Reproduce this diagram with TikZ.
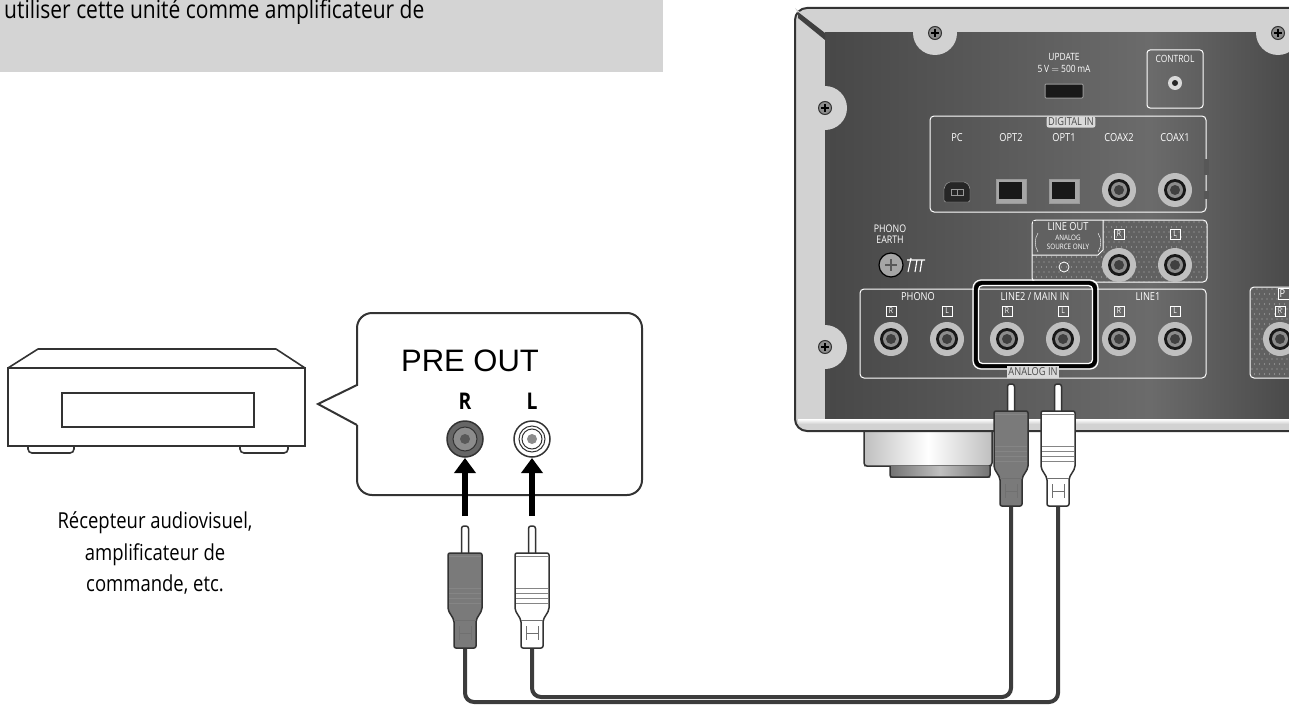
\documentclass[tikz,border=0pt]{standalone}
\usepackage{fontspec}
\setmainfont{Open Sans}[FakeStretch=0.84]
\newfontfamily\arialf{Liberation Sans}
\usetikzlibrary{arrows.meta}
\definecolor{ink}{HTML}{333333}
\definecolor{frame}{HTML}{D2D2D2}
\definecolor{cable}{HTML}{3C3C3C}
\definecolor{plugdark}{HTML}{7A7A7A}
\begin{document}
\begin{tikzpicture}[x=1pt,y=-1pt,
  lbl/.style={text=white,font=\fontsize{10}{11}\selectfont,inner sep=0pt},
  badge/.style={draw=white,line width=0.7pt,text=white,font=\fontsize{8}{8}\selectfont,inner sep=1pt,minimum width=10pt,minimum height=10pt},
  ol/.style={draw=ink,line width=1.6pt},
  cab/.style={draw=cable,line width=4pt,rounded corners=9pt},
  bigarrow/.style={line width=6.5pt,-{Triangle[length=15pt,width=21pt]}}]
\useasboundingbox (0,0) rectangle (1289,709);
\clip (0,0) rectangle (1289,709);
\newcommand\jackx[2]{%
  \fill[white!75!black] (#1,#2) circle (17);
  \fill[black!90] (#1,#2) circle (11);
  \fill[black!45] (#1,#2) circle (8);
  \fill[black!75] (#1,#2) circle (5);}
\newcommand\screwx[2]{%
  \fill[frame] (#1,#2) circle (22);
  \draw[ink,fill=black!45,line width=1pt] (#1,#2) circle (6.5);
  \draw[black,line width=1.3pt] ({#1-4},#2) -- ({#1+4},#2) (#1,{#2-4}) -- (#1,{#2+4});}
\newcommand\plugx[3]{%
  \begin{scope}[shift={(#1,#2)}]
  \draw[ink,line width=1.5pt,fill=white,rounded corners=2.5pt] (-3.5,30) -- (-3.5,0) -- (3.5,0) -- (3.5,30);
  \draw[ink,line width=1.5pt,fill=#3,rounded corners=2pt] (-17,27) -- (17,27) -- (17,84) -- (11,94) -- (11,122) -- (-11,122) -- (-11,94) -- (-17,84) -- cycle;
  \draw[ink!60,line width=0.8pt] (-16,30) -- (16,30) (-16,62) -- (16,62) (-16,67) -- (16,67) (-16,72) -- (16,72) (-16,77) -- (16,77);
  \draw[ink!70,line width=0.8pt] (-6,100) -- (-6,114) (6,100) -- (6,114) (-6,107) -- (6,107) (-11,94) -- (11,94);
  \end{scope}}
% banner
\fill[black!17] (0,0) rectangle (663,72);
\node[anchor=base west,inner sep=0pt,font=\fontsize{25}{28}\selectfont] (banner) at (4,19) {utiliser cette unité comme amplificateur de};
% left device
\draw[ol,fill=white,line join=round] (8,368) -- (38,349) -- (276,349) -- (305,368) -- cycle;
\draw[ol,fill=white,rounded corners=4pt] (28,443) rectangle (74,453);
\draw[ol,fill=white,rounded corners=4pt] (240,443) rectangle (288,453);
\draw[ol,fill=white] (8,368) rectangle (305,446);
\draw[ink,line width=1.2pt] (62,393) rectangle (254,427);
\node[align=center,font=\fontsize{22}{31.5}\selectfont] (devlabel) at (155,553) {Récepteur audiovisuel,\\amplificateur de\\commande, etc.};
% callout
\draw[ink,line width=2pt,fill=white,line join=miter] (357,425) -- (318,404) -- (357,385) [rounded corners=15pt] -- (357,313) -- (642,313) -- (642,495) -- (357,495) -- (357,440) [sharp corners] -- (357,425);
\node[font=\arialf\fontsize{31}{31}\selectfont] (preout) at (470,361) {PRE OUT};
\node[font=\fontsize{23}{23}\selectfont\bfseries] (rlab) at (465,401) {R};
\node[font=\fontsize{23}{23}\selectfont\bfseries] (llab) at (532,401) {L};
\draw[ink,line width=1.5pt,fill=black!60] (465,439) circle (18);
\draw[ink,line width=1pt,fill=black!45] (465,439) circle (12);
\fill[black!65] (465,439) circle (5);
\draw[ink,line width=1.5pt,fill=white] (532,439) circle (18);
\draw[ink,line width=1pt] (532,439) circle (13) circle (10);
\fill[black!45] (532,439) circle (5);
\coordinate (aR) at (465,516); \coordinate (aRt) at (465,458);
\coordinate (aL) at (532,516); \coordinate (aLt) at (532,458);
\draw[bigarrow] (aR) -- (aRt);
\draw[bigarrow] (aL) -- (aLt);
% right unit: foot
\shade[left color=black!25,right color=black!25,middle color=white] (864,420) rectangle (992,466);
\draw[ink,line width=1.5pt,rounded corners=3pt] (864,420) -- (864,466) -- (992,466) -- (992,420);
\shade[left color=black!55,right color=black!55,middle color=black!25] (890,466) rectangle (990,477);
\draw[ink,line width=1.5pt,rounded corners=2pt] (890,466) -- (890,477) -- (990,477) -- (990,466);
% frame
\draw[ink,line width=2pt,fill=frame,rounded corners=12pt] (795,8) rectangle (1310,431);
\shade[left color=black!72,right color=black!58] (825,33) rectangle (1150,418);
\shade[left color=black!58,right color=black!72] (1150,33) rectangle (1300,418);
\fill[frame] (795,8) -- (825,33) -- (810,33) -- cycle;
\fill[black!75] (798,12) -- (825,33) -- (825,40) -- (798,18) -- cycle;
\shade[top color=white,bottom color=frame] (798,419) rectangle (1300,424);
\screwx{935}{33}
\screwx{1278}{33}
\screwx{825}{108}
\screwx{825}{347}
% update / control
\node[lbl] (upd) at (1064,57) {UPDATE};
\node[lbl] (updv) at (1064,69) {5\,V $=$ 500\,mA};
\draw[black!40,fill=black!90,line width=1pt,rounded corners=1pt] (1045,84) rectangle (1083,98);
\draw[white,line width=1pt,rounded corners=3pt] (1147,50) rectangle (1203,108);
\node[lbl] (ctrl) at (1175,59) {CONTROL};
\fill[black!15] (1175,83) circle (7); \fill[black!85] (1175,83) circle (3);
% digital in
\draw[white,line width=1pt,rounded corners=4pt] (930,116) rectangle (1206,212);
\fill[black!66] (1204,159) rectangle (1209,175);
\fill[black!66] (1204,191) rectangle (1209,199);
\node[fill=black!15,text=black!70,font=\fontsize{11}{11}\selectfont,inner sep=1.5pt,rounded corners=2pt] (dig) at (1071,122) {DIGITAL IN};
\node[lbl,font=\fontsize{11}{11}\selectfont] (pc) at (957,138) {PC};
\node[lbl,font=\fontsize{11}{11}\selectfont] (o2) at (1011,138) {OPT2};
\node[lbl,font=\fontsize{11}{11}\selectfont] (o1) at (1064,138) {OPT1};
\node[lbl,font=\fontsize{11}{11}\selectfont] (c2) at (1119,138) {COAX2};
\node[lbl,font=\fontsize{11}{11}\selectfont] (c1) at (1175,138) {COAX1};
\draw[black!30,fill=black!85,rounded corners=2pt] (948,182) -- (966,182) -- (970,187) -- (970,202) -- (944,202) -- (944,187) -- cycle;
\draw[black!40,line width=0.7pt] (951,189) rectangle (963,195) (957,189) -- (957,195);
\foreach \xx in {1011,1064}{\draw[black!40,fill=black!35] ({\xx-15},179) rectangle ({\xx+15},203); \fill[black!90] ({\xx-12},182) rectangle ({\xx+11},199);}
\jackx{1119}{190}\jackx{1175}{190}
% phono earth
\node[lbl,align=center,font=\fontsize{10.5}{11}\selectfont] (pe) at (890,234) {PHONO\\EARTH};
\draw[black,line width=1.2pt,fill=black!35] (891,265) circle (12);
\draw[black!65,line width=1.2pt] (885,265) -- (897,265) (891,259) -- (891,271);
\draw[white,line width=1.1pt] (907,260) -- (925,260) (911,258) -- (908,272) (917,260) -- (915,272) (922,260) -- (920,272);
% line out
\begin{scope}
\clip[rounded corners=4pt] (1032,220) rectangle (1207,282);
\fill[black!62] (1032,220) rectangle (1207,282);
\foreach \i in {0,...,34}{\foreach \j in {0,...,12}{\fill[black!30] ({1034+\i*5+mod(\j,2)*2.5},{222+\j*5}) circle (0.6);}}
\end{scope}
\draw[white,line width=1pt,rounded corners=4pt] (1032,220) rectangle (1207,282);
\fill[black!62] (1033,221) rectangle (1103,255);
\draw[white,line width=1pt] (1103,220) -- (1103,250) -- (1098,255) -- (1032,255);
\node[lbl,font=\fontsize{11}{11}\selectfont] (lo) at (1068,227) {LINE OUT};
\node[lbl,font=\fontsize{7.5}{7.5}\selectfont] (lo2) at (1068,238) {ANALOG};
\node[lbl,font=\fontsize{7.5}{7.5}\selectfont] (lo3) at (1068,247) {SOURCE ONLY};
\draw[white] (1038,233) to[bend right=30] (1038,252) (1098,233) to[bend left=30] (1098,252);
\draw[white,line width=0.8pt] (1064,267) circle (5);
\node[badge] (lor) at (1119,234) {R}; \node[badge] (lol) at (1175,234) {L};
\jackx{1119}{265}\jackx{1175}{265}
% analog in
\draw[white,line width=1pt,rounded corners=4pt] (860,289) rectangle (1206,378);
\node[lbl,font=\fontsize{11}{11}\selectfont] (ph) at (918,297) {PHONO};
\node[lbl,font=\fontsize{11}{11}\selectfont] (l1) at (1148,297) {LINE1};
\draw[black,line width=4pt,rounded corners=6pt] (976,283) rectangle (1095,366);
\draw[white,line width=1.2pt,rounded corners=4pt] (978.5,285.5) rectangle (1092.5,363.5);
\draw[white,line width=1.2pt,rounded corners=8pt] (973,280) rectangle (1098,369);
\node[lbl,font=\fontsize{11}{11}\selectfont] (l2) at (1035,297) {LINE2 / MAIN IN};
\node[fill=black!15,text=black!70,font=\fontsize{11}{11}\selectfont,inner sep=1.5pt] (ain) at (1033,372) {ANALOG IN};
\foreach \xx/\t in {891/R,947/L,1007/R,1063/L,1119/R,1175/L}{\node[badge] at (\xx,311) {\t};}
\foreach \xx in {891,947,1007,1063,1119,1175}{\jackx{\xx}{339}}
% partial box right
\begin{scope}
\clip[rounded corners=4pt] (1250,287) rectangle (1320,378);
\fill[black!62] (1250,287) rectangle (1320,378);
\foreach \i in {0,...,8}{\foreach \j in {0,...,18}{\fill[black!30] ({1252+\i*5+mod(\j,2)*2.5},{289+\j*5}) circle (0.6);}}
\end{scope}
\draw[white,line width=1pt,rounded corners=4pt] (1250,287) rectangle (1320,378);
\node[draw=white,fill=black!62,text=white,font=\fontsize{11}{11}\selectfont,inner sep=1.5pt,anchor=west] (pp) at (1278,294) {P\phantom{HONO}};
\node[badge] (ppr) at (1280,311) {R};
\jackx{1280}{339}
% cables
\coordinate (pLd) at (465,645); \coordinate (pLw) at (532,645);
\coordinate (pRd) at (1011,505); \coordinate (pRw) at (1058,505);
\draw[cab] (pLd) -- (465,702) -- (1058,702) -- (pRw);
\draw[cab] (pLw) -- (532,697) -- (1011,697) -- (pRd);
% plugs
\plugx{465}{526}{plugdark}
\plugx{532}{526}{white}
\plugx{1011}{384}{plugdark}
\plugx{1058}{384}{white}
\end{tikzpicture}
\end{document}
